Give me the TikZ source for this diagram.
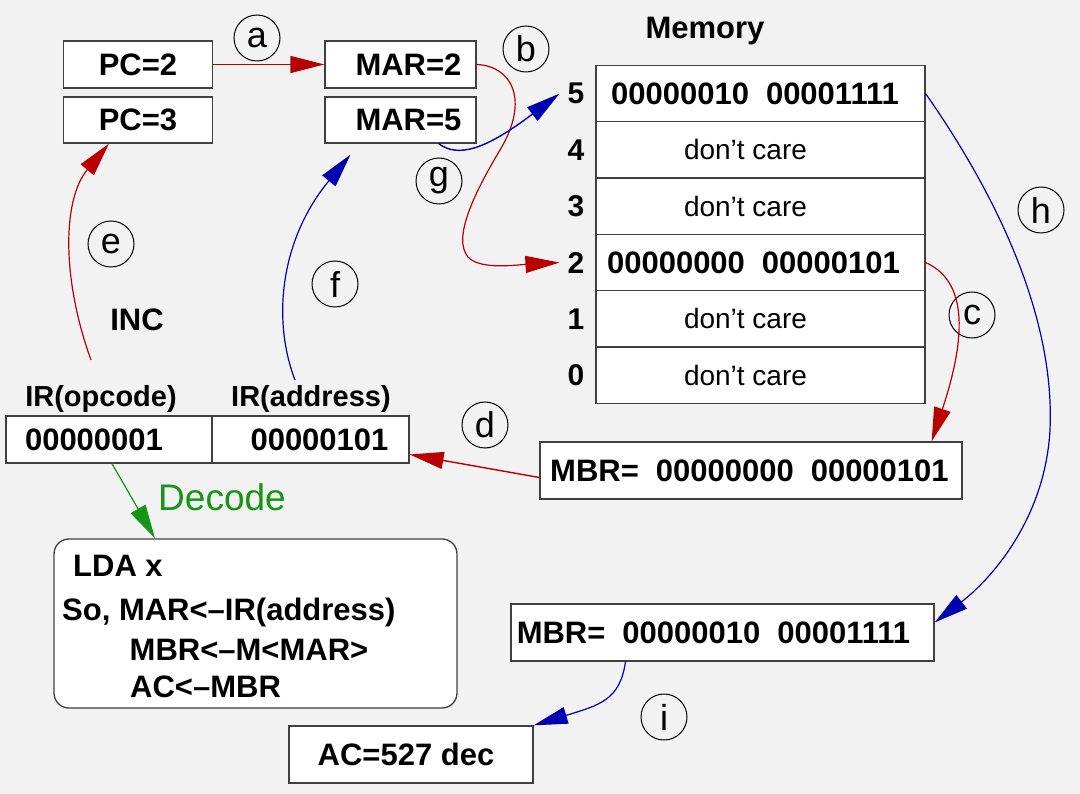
\documentclass[tikz,border=0pt]{standalone}
\usepackage{fontspec}
\setmainfont{Liberation Sans}
\usetikzlibrary{arrows.meta}
\definecolor{bg}{HTML}{F2F2F2}
\definecolor{dred}{HTML}{B80000}
\definecolor{dblue}{HTML}{0000B0}
\definecolor{dgreen}{HTML}{149614}
\definecolor{edgec}{HTML}{404040}
\begin{document}
\begin{tikzpicture}[x=1pt,y=-1pt,
 box/.style={draw=edgec,line width=1.3pt,fill=white,inner sep=0pt},
 bt/.style={font=\fontsize{31}{34}\selectfont\bfseries,inner sep=0pt},
 ldat/.style={font=\fontsize{31}{34}\selectfont\bfseries,inner sep=0pt,anchor=west},
 rt/.style={font=\fontsize{28}{32}\selectfont,inner sep=0pt},
 rowlbl/.style={font=\fontsize{30}{34}\selectfont\bfseries,inner sep=8pt},
 lbl/.style={draw=black,line width=1pt,circle,minimum size=46pt,inner sep=0pt,font=\fontsize{36}{38}\selectfont},
 arr/.style={line width=1.4pt,-{Triangle[length=34pt,width=17pt]}},
 memrow/.style={box,minimum width=329pt,minimum height=56.3pt},
]
\fill[bg] (0,0) rectangle (1080,794);
\useasboundingbox (0,0) rectangle (1080,794);

% registers
\node[box,bt,minimum width=149pt,minimum height=47pt] (pc2) at (138,64.5) {PC=2};
\node[box,bt,minimum width=149pt,minimum height=46pt] (pc3) at (138,120) {PC=3};
\node[box,bt,minimum width=151pt,minimum height=47pt] (mar2) at (400.5,64.5) {\hspace*{16pt}MAR=2};
\node[box,bt,minimum width=151pt,minimum height=46pt] (mar5) at (400.5,120) {\hspace*{16pt}MAR=5};

% memory
\node[bt,font=\fontsize{31}{34}\selectfont\bfseries] (memt) at (705,31) {Memory};
\node[memrow,bt] (m5) at (760.5,93.65) {00000010\hspace{17pt}00001111\hspace*{11pt}};
\node[memrow,rt] (m4) at (760.5,149.95) {don’t care\hspace*{30pt}};
\node[memrow,rt] (m3) at (760.5,206.25) {don’t care\hspace*{30pt}};
\node[memrow,bt] (m2) at (760.5,262.55) {00000000\hspace{17pt}00000101\hspace*{14pt}};
\node[memrow,rt] (m1) at (760.5,318.85) {don’t care\hspace*{30pt}};
\node[memrow,rt] (m0) at (760.5,375.15) {don’t care\hspace*{30pt}};
\node[rowlbl] (l5) at (576,93.65) {5};
\node[rowlbl] (l4) at (576,149.95) {4};
\node[rowlbl] (l3) at (576,206.25) {3};
\node[rowlbl] (l2) at (576,262.55) {2};
\node[rowlbl] (l1) at (576,318.85) {1};
\node[rowlbl] (l0) at (576,375.15) {0};

% IR
\node[bt] (inc) at (137,320) {INC};
\node[bt,font=\fontsize{29}{32}\selectfont\bfseries] (iropl) at (101,399) {IR(opcode)};
\node[bt,font=\fontsize{29}{32}\selectfont\bfseries] (iradl) at (311,399) {IR(address)};
\node[box,bt,minimum width=206pt,minimum height=47pt] (irop) at (109,439.5) {00000001\hspace*{30pt}};
\node[box,bt,minimum width=197pt,minimum height=47pt] (irad) at (310.5,439.5) {\hspace*{18pt}00000101};

% MBR boxes
\node[box,bt,minimum width=422pt,minimum height=57pt] (mbrc) at (751,470.5) {MBR=\hspace{17pt}00000000\hspace{17pt}00000101\hspace*{3pt}};
\node[box,bt,minimum width=423pt,minimum height=57pt] (mbrh) at (722.5,632.5) {MBR=\hspace{17pt}00000010\hspace{17pt}00001111\hspace*{18pt}};
\node[box,bt,minimum width=244pt,minimum height=57pt] (ac) at (411,754.5) {AC=527 dec\hspace*{10pt}};

% LDA box
\node[box,rounded corners=15pt,minimum width=403pt,minimum height=169pt] (lda) at (255.5,623.5) {};
\node[ldat] (t1) at (73,566) {LDA x};
\node[ldat] (t2) at (62,612) {So, MAR<–IR(address)};
\node[ldat] (t3) at (129.5,650) {MBR<–M<MAR>};
\node[ldat] (t4) at (130,687) {AC<–MBR};

% decode
\node[font=\fontsize{37}{40}\selectfont,text=dgreen,inner sep=0pt] (dec) at (222,497) {Decode};

% step labels
\node[lbl] (ca) at (257,38) {a};
\node[lbl] (cb) at (526,49) {b};
\node[lbl] (cg) at (439,181) {g};
\node[lbl] (ce) at (111,244) {e};
\node[lbl] (cf) at (335,284) {f};
\node[lbl] (ch) at (1041,210) {h};
\node[lbl] (cc) at (972,315) {c};
\node[lbl] (cd) at (485,425) {d};
\node[lbl] (ci) at (664,717) {i};

% connectors
\coordinate (e0) at (91,360);
\coordinate (f0) at (295,380);

\draw[arr,dred] (pc2.east) -- (mar2.west);
\draw[arr,dred,line width=1.2pt] (mar2.east) .. controls (512,66) and (530,100) .. (500,150)
  .. controls (475,192) and (452,238) .. (468,257)
  .. controls (480,270) and (515,265) .. (l2.west);
\draw[arr,dblue] ([xshift=-38pt]mar5.south east) .. controls (458,158) and (485,150) .. (l5.west);
\draw[arr,dred,line width=1.2pt] (m2.east) .. controls (960,278) and (972,320) .. ([xshift=-31pt]mbrc.north east);
\draw[arr,dred] ([yshift=-7pt]mbrc.west) -- ([yshift=-15pt]irad.east);
\draw[arr,dred,line width=1.2pt] (e0) .. controls (62,280) and (62,200) .. ([xshift=-29pt]pc3.south);
\draw[arr,dblue,line width=1.2pt] (f0) .. controls (272,320) and (280,240) .. ([shift={(-50pt,-11pt)}]mar5.south);
\draw[arr,dblue,line width=1.2pt] (m5.east) .. controls (1000,200) and (1055,320) .. (1050,430)
  .. controls (1045,520) and (990,580) .. ([yshift=10pt]mbrh.east);
\draw[arr,dblue,line width=1.2pt] ([xshift=-97pt]mbrh.south) .. controls (620,700) and (600,705) .. (ac.north east);
\draw[arr,dgreen,line width=1.2pt] ([xshift=3pt]irop.south) -- ([xshift=-100.5pt]lda.north);
\end{tikzpicture}
\end{document}
